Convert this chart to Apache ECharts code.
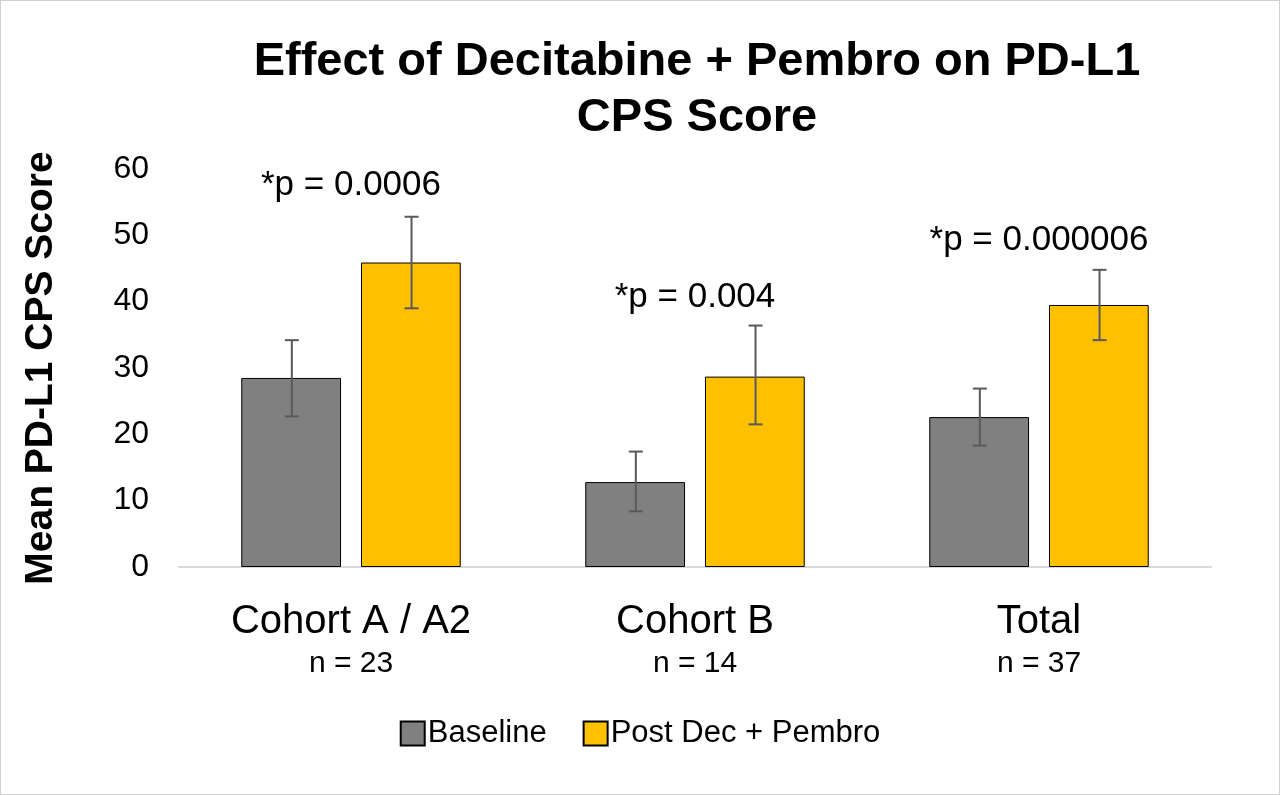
<!DOCTYPE html>
<html><head><meta charset="utf-8">
<script src="https://cdn.jsdelivr.net/npm/echarts@6/dist/echarts.min.js"></script>
<style>html,body{margin:0;padding:0;background:#fff}#c{width:1280px;height:795px;box-sizing:border-box;border:1px solid #d0d0d0}</style>
</head><body><div id="c"></div>
<script>
const categories = ['Cohort A / A2', 'Cohort B', 'Total'];
const nLabels = ['n = 23', 'n = 14', 'n = 37'];
const baseline = [28.5, 12.8, 22.6];
const baselineLow = [22.7, 8.4, 18.3];
const baselineHigh = [34.2, 17.4, 26.9];
const post = [45.9, 28.7, 39.5];
const postLow = [39.0, 21.5, 34.2];
const postHigh = [52.8, 36.4, 44.8];
const pLabels = ['*p = 0.0006', '*p = 0.004', '*p = 0.000006'];
const pLabelY = [57.5, 40.7, 49.2];
const yTicks = [0, 60, 10];

const chart = echarts.init(document.getElementById('c'));
const font = 'Liberation Sans, Arial, sans-serif';
function errSeries(low, high, offset) {
  return {
    type: 'custom', z: 10, silent: true,
    data: categories.map((c, i) => [i, low[i], high[i]]),
    renderItem(params, api) {
      const i = api.value(0);
      const lo = api.coord([i, api.value(1)]);
      const hi = api.coord([i, api.value(2)]);
      const bw = api.size([1, 0])[0];
      const x = lo[0] + offset * bw;
      const cap = 7;
      const st = { stroke: '#595959', lineWidth: 2 };
      return { type: 'group', children: [
        { type: 'line', shape: { x1: x, y1: lo[1], x2: x, y2: hi[1] }, style: st },
        { type: 'line', shape: { x1: x - cap, y1: lo[1], x2: x + cap, y2: lo[1] }, style: st },
        { type: 'line', shape: { x1: x - cap, y1: hi[1], x2: x + cap, y2: hi[1] }, style: st }
      ]};
    }
  };
}
chart.setOption({
  animation: false,
  title: { text: 'Effect of Decitabine + Pembro on PD-L1\nCPS Score', left: 691, top: 28, textAlign: 'center',
    textStyle: { fontFamily: font, fontSize: 47, fontWeight: 'bold', color: '#000', lineHeight: 56 } },
  grid: { left: 178, right: 68, top: 168, bottom: 227 },
  legend: { bottom: 40, left: 'center', itemWidth: 24, itemHeight: 24, itemGap: 36, icon: 'rect',
    textStyle: { fontFamily: font, fontSize: 31, color: '#000', padding: [0, 0, 0, -2] },
    data: ['Baseline', 'Post Dec + Pembro'] },
  xAxis: { type: 'category', data: categories,
    axisLine: { lineStyle: { color: '#d9d9d9', width: 2 } }, axisTick: { show: false },
    axisLabel: { margin: 30, fontFamily: font, interval: 0,
      formatter: (v, i) => '{a|' + v + '}\n{b|' + nLabels[i] + '}',
      rich: { a: { fontSize: 40, color: '#000', lineHeight: 50, fontFamily: font },
              b: { fontSize: 30, color: '#000', lineHeight: 34, fontFamily: font } } } },
  yAxis: { type: 'value', min: yTicks[0], max: yTicks[1], interval: yTicks[2],
    name: 'Mean PD-L1 CPS Score', nameLocation: 'middle', nameGap: 118,
    nameTextStyle: { fontFamily: font, fontSize: 39, fontWeight: 'bold', color: '#000' },
    splitLine: { show: false }, axisLine: { show: false }, axisTick: { show: false },
    axisLabel: { fontFamily: font, fontSize: 32, color: '#000', margin: 30 } },
  series: [
    { name: 'Baseline', type: 'bar', data: baseline, barWidth: '29%', barGap: '20%',
      itemStyle: { color: '#808080', borderColor: '#000', borderWidth: 1 } },
    { name: 'Post Dec + Pembro', type: 'bar', data: post, barWidth: '29%',
      itemStyle: { color: '#ffc000', borderColor: '#000', borderWidth: 1 } },
    errSeries(baselineLow, baselineHigh, -0.172),
    errSeries(postLow, postHigh, 0.176),
    { type: 'custom', silent: true, z: 11,
      data: categories.map((c, i) => [i, pLabelY[i]]),
      renderItem(params, api) {
        const p = api.coord([api.value(0), api.value(1)]);
        return { type: 'text', x: p[0], y: p[1], style: { text: pLabels[params.dataIndex],
          fontFamily: font, fontSize: 35, fill: '#000', align: 'center', verticalAlign: 'middle' } };
      } }
  ]
});
</script></body></html>
